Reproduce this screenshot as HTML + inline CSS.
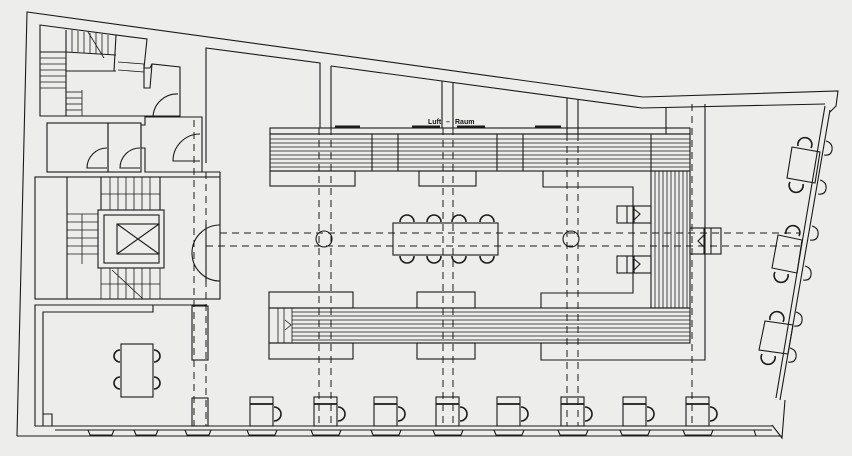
<!DOCTYPE html>
<html><head><meta charset="utf-8"><style>
html,body{margin:0;padding:0;background:#ededec;}
svg{display:block}
text{font-family:"Liberation Sans",sans-serif;font-weight:bold;font-size:7px;fill:#111}
</style></head><body>
<svg width="852" height="456" viewBox="0 0 852 456" xmlns="http://www.w3.org/2000/svg">
<rect width="852" height="456" fill="#ededec"/>
<g fill="none" stroke="#1a1a1a" stroke-width="1.1">
<!-- outer walls -->
<polyline points="17,436 27,12 643,97 838,91 836,106 830,112"/>
<polyline points="331,66 642,108 825,104"/>
<!-- right wall -->
<line x1="830" y1="110" x2="780" y2="400"/>
<line x1="825" y1="106" x2="776" y2="398"/>
<polyline points="785,400 782,438 772,425"/>
<!-- bottom wall -->
<line x1="17" y1="436" x2="782" y2="436"/>
<line x1="35" y1="426" x2="772" y2="426"/>
<line x1="55" y1="430" x2="772" y2="430"/>
<!-- top-left stair room -->
<polygon points="40,25 147,39 144,68 150,68 152,64 180,67 180,116 40,116"/>
<line x1="66" y1="30" x2="66" y2="116"/>
<line x1="40" y1="52" x2="66" y2="52"/>
<line x1="66" y1="71" x2="116" y2="71"/>
<line x1="116" y1="35" x2="114" y2="71"/>
<line x1="66" y1="52" x2="116" y2="55"/>
<g stroke-width="0.8">
<line x1="40" y1="58" x2="66" y2="58"/><line x1="40" y1="64" x2="66" y2="64"/><line x1="40" y1="70" x2="66" y2="70"/><line x1="40" y1="76" x2="66" y2="76"/><line x1="40" y1="82" x2="66" y2="82"/><line x1="40" y1="88" x2="66" y2="88"/>
<line x1="72" y1="30" x2="72" y2="52"/><line x1="78" y1="31" x2="78" y2="52"/><line x1="84" y1="32" x2="84" y2="53"/><line x1="90" y1="33" x2="90" y2="53"/><line x1="96" y1="33" x2="96" y2="54"/><line x1="102" y1="34" x2="102" y2="54"/><line x1="108" y1="35" x2="108" y2="55"/>
<line x1="88" y1="32" x2="104" y2="58"/>
<line x1="66" y1="92" x2="82" y2="92"/><line x1="66" y1="98" x2="82" y2="98"/><line x1="66" y1="104" x2="82" y2="104"/><line x1="66" y1="110" x2="82" y2="110"/>
<line x1="82" y1="90" x2="82" y2="116"/>
<line x1="118" y1="62" x2="144" y2="64"/><line x1="118" y1="70" x2="144" y2="72"/>
</g>
<polyline points="144,64 144,88 150,88 152,64"/>
<!-- small rooms -->
<rect x="47" y="123" width="61" height="49"/>
<rect x="108" y="123" width="33" height="49"/>
<polygon points="145,117 202,117 202,172 145,172 145,148 141,148 141,125 145,125"/>
<path d="M107,148 A20,20 0 0 0 87,168 L107,168"/>
<path d="M140,148 A20,20 0 0 0 120,168 L140,168"/>
<path d="M200,134 A27,27 0 0 0 173,161 L200,161"/>
<path d="M178,94 A24,24 0 0 0 153,117"/>
<!-- corridor walls / partitions -->
<polyline points="206,163 206,48 320,63 320,128"/>
<line x1="331" y1="66" x2="331" y2="128"/>
<line x1="442" y1="81" x2="442" y2="128"/>
<line x1="453" y1="83" x2="453" y2="128"/>
<line x1="567" y1="98" x2="567" y2="134"/>
<line x1="578" y1="100" x2="578" y2="134"/>
<line x1="666" y1="108" x2="666" y2="134"/>
<!-- stair block -->
<rect x="35" y="177" width="185" height="122"/>
<line x1="202" y1="172" x2="220" y2="172"/><line x1="220" y1="172" x2="220" y2="177"/>
<line x1="67" y1="177" x2="67" y2="299"/>
<line x1="101" y1="177" x2="101" y2="210"/><line x1="160" y1="177" x2="160" y2="210"/>
<g stroke-width="0.8">
<line x1="101" y1="194" x2="160" y2="194"/>
<line x1="110" y1="177" x2="110" y2="210"/><line x1="118" y1="177" x2="118" y2="210"/><line x1="126" y1="177" x2="126" y2="210"/><line x1="134" y1="177" x2="134" y2="210"/><line x1="142" y1="177" x2="142" y2="210"/><line x1="150" y1="177" x2="150" y2="210"/>
<line x1="67" y1="214" x2="98" y2="214"/><line x1="67" y1="222" x2="98" y2="222"/><line x1="67" y1="230" x2="98" y2="230"/><line x1="67" y1="238" x2="98" y2="238"/><line x1="67" y1="246" x2="98" y2="246"/><line x1="67" y1="254" x2="98" y2="254"/>
<line x1="82" y1="214" x2="82" y2="264"/>
<line x1="110" y1="268" x2="110" y2="299"/><line x1="118" y1="268" x2="118" y2="299"/><line x1="126" y1="268" x2="126" y2="299"/><line x1="134" y1="268" x2="134" y2="299"/><line x1="142" y1="268" x2="142" y2="299"/><line x1="150" y1="268" x2="150" y2="299"/>
<line x1="101" y1="284" x2="160" y2="284"/>
<line x1="112" y1="270" x2="143" y2="299"/>
<line x1="101" y1="268" x2="101" y2="299"/><line x1="160" y1="268" x2="160" y2="299"/>
</g>
<rect x="98" y="210" width="66" height="58"/>
<rect x="104" y="215" width="55" height="48"/>
<rect x="117" y="224" width="42" height="30"/>
<line x1="117" y1="224" x2="159" y2="254"/><line x1="117" y1="254" x2="159" y2="224"/>
<path d="M220,225 A28,28 0 0 0 220,281"/>
<line x1="206" y1="224" x2="206" y2="282"/>
<!-- lower left room -->
<polyline points="35,426 35,305 207,305"/>
<polyline points="43,426 43,312 153,312 153,305"/>
<polyline points="43,414 52,414 52,426"/>
<rect x="192" y="306" width="16" height="54"/>
<rect x="192" y="398" width="16" height="28"/>
<rect x="121" y="344" width="32" height="53"/>
<path d="M120,350 A6,6 0 0 0 120,362 M154,350 A6,6 0 0 1 154,362 M120,377 A6,6 0 0 0 120,389 M154,377 A6,6 0 0 1 154,389" stroke-width="1.6"/>
<!-- top bench -->
<rect x="270" y="128" width="420" height="6"/>
<rect x="270" y="134" width="420" height="37"/>
<g stroke-width="0.8">
<line x1="270" y1="139" x2="690" y2="139"/><line x1="270" y1="143" x2="690" y2="143"/><line x1="270" y1="147" x2="690" y2="147"/><line x1="270" y1="151" x2="690" y2="151"/><line x1="270" y1="155" x2="690" y2="155"/><line x1="270" y1="159" x2="690" y2="159"/><line x1="270" y1="163" x2="690" y2="163"/><line x1="270" y1="167" x2="690" y2="167"/>
</g>
<line x1="372" y1="134" x2="372" y2="171"/><line x1="398" y1="134" x2="398" y2="171"/><line x1="497" y1="134" x2="497" y2="171"/><line x1="523" y1="134" x2="523" y2="171"/><line x1="651" y1="134" x2="651" y2="171"/>
<rect x="270" y="171" width="85" height="15"/>
<rect x="419" y="171" width="57" height="15"/>
<polyline points="543,171 543,187 633,187 633,293 541,293 541,308"/>
<!-- right vertical bench -->
<rect x="651" y="171" width="39" height="137"/>
<g stroke-width="0.8">
<line x1="655" y1="171" x2="655" y2="308"/><line x1="659" y1="171" x2="659" y2="308"/><line x1="663" y1="171" x2="663" y2="308"/><line x1="667" y1="171" x2="667" y2="308"/><line x1="671" y1="171" x2="671" y2="308"/><line x1="675" y1="171" x2="675" y2="308"/><line x1="679" y1="171" x2="679" y2="308"/><line x1="683" y1="171" x2="683" y2="308"/><line x1="687" y1="171" x2="687" y2="308"/>
</g>
<!-- lower bench -->
<rect x="269" y="292" width="84" height="16"/>
<rect x="417" y="292" width="58" height="16"/>
<rect x="269" y="308" width="421" height="35"/>
<g stroke-width="0.8">
<line x1="292" y1="312" x2="690" y2="312"/><line x1="292" y1="316" x2="690" y2="316"/><line x1="292" y1="320" x2="690" y2="320"/><line x1="292" y1="324" x2="690" y2="324"/><line x1="292" y1="328" x2="690" y2="328"/><line x1="292" y1="332" x2="690" y2="332"/><line x1="292" y1="336" x2="690" y2="336"/><line x1="292" y1="340" x2="690" y2="340"/>
<line x1="278" y1="308" x2="278" y2="343"/><line x1="284" y1="308" x2="284" y2="343"/><line x1="292" y1="308" x2="292" y2="343"/>
<polyline points="285,320 291,325 285,330"/>
</g>
<rect x="269" y="343" width="84" height="16"/>
<rect x="417" y="343" width="58" height="16"/>
<polyline points="541,343 541,360 705,360 705,308"/>
<!-- small stair blocks -->
<rect x="617" y="206" width="34" height="17"/><line x1="627" y1="206" x2="627" y2="223"/><line x1="634" y1="206" x2="634" y2="223"/><polyline points="634,209 640,214 634,220"/>
<rect x="617" y="256" width="34" height="17"/><line x1="627" y1="256" x2="627" y2="273"/><line x1="634" y1="256" x2="634" y2="273"/><polyline points="634,259 640,264 634,270"/>
<rect x="690" y="228" width="31" height="26"/><line x1="704" y1="228" x2="704" y2="254"/><line x1="711" y1="228" x2="711" y2="254"/><polyline points="704,235 698,241 704,247"/>
<!-- columns -->
<circle cx="324" cy="239" r="8"/>
<circle cx="571" cy="239" r="8"/>
<!-- center table -->
<rect x="393" y="223" width="105" height="32"/>
<g stroke-width="1.6">
<path d="M400,222 A7,7 0 1 1 414,222 M427,222 A7,7 0 1 1 441,222 M452,222 A7,7 0 1 1 466,222 M480,222 A7,7 0 1 1 494,222"/>
<path d="M400,256 A7,7 0 1 0 414,256 M427,256 A7,7 0 1 0 441,256 M452,256 A7,7 0 1 0 466,256 M480,256 A7,7 0 1 0 494,256"/>
</g>
<!-- dashed grid -->
<g stroke-dasharray="7,5" stroke-width="1">
<line x1="220" y1="233" x2="800" y2="233"/><line x1="206" y1="246" x2="800" y2="246"/>
<line x1="194" y1="120" x2="194" y2="426"/><line x1="206" y1="172" x2="206" y2="426"/>
<line x1="319" y1="128" x2="319" y2="426"/><line x1="331" y1="128" x2="331" y2="426"/>
<line x1="443" y1="128" x2="443" y2="426"/><line x1="453" y1="128" x2="453" y2="426"/>
<line x1="567" y1="134" x2="567" y2="426"/><line x1="578" y1="134" x2="578" y2="426"/>
<line x1="692" y1="104" x2="692" y2="426"/>
</g>
<line x1="705" y1="104" x2="705" y2="308"/>
<!-- dark bars -->
<g stroke-width="3"><line x1="335" y1="127" x2="360" y2="127"/><line x1="412" y1="127" x2="440" y2="127"/><line x1="457" y1="127" x2="485" y2="127"/><line x1="535" y1="127" x2="561" y2="127"/></g>
</g>
<!-- bottom desks -->
<g fill="none" stroke="#1a1a1a" stroke-width="1.1">
<g id="d"><rect x="250" y="397" width="23" height="29"/><line x1="250" y1="404" x2="273" y2="404" stroke-width="1.8"/><path d="M274,407 A7,7 0 0 1 274,421" stroke-width="1.6"/><path d="M247,430 L249,435 L275,435 L277,430"/></g>
<use href="#d" x="64"/><use href="#d" x="124"/><use href="#d" x="186"/><use href="#d" x="247"/><use href="#d" x="311"/><use href="#d" x="373"/><use href="#d" x="436"/>
<path d="M88,430 L90,435 L112,435 L114,430 M134,430 L136,435 L156,435 L158,430 M185,430 L187,435 L209,435 L211,430 M754,430 L756,436 L770,436"/>
<!-- right wall desks -->
<polygon points="792,147 820,152 815,183 787,178"/>
<path d="M798,146 A7,7 0 1 1 811,148" stroke-width="1.6"/>
<path d="M790,182 A7,7 0 1 0 803,184" stroke-width="1.6"/>
<polygon points="778,235 802,240 797,273 772,268"/>
<path d="M786,234 A7,7 0 1 1 799,236" stroke-width="1.6"/>
<path d="M775,272 A7,7 0 1 0 788,274" stroke-width="1.6"/>
<polygon points="765,321 793,325 788,354 759,350"/>
<path d="M770,320 A7,7 0 1 1 783,322" stroke-width="1.6"/>
<path d="M762,354 A7,7 0 1 0 775,356" stroke-width="1.6"/>
<path d="M826,141 Q833,143 832,150 Q831,156 824,155 M820,180 Q827,182 826,189 Q825,195 818,194 M812,226 Q819,228 818,235 Q817,241 810,240 M805,266 Q812,268 811,275 Q810,281 803,280 M796,312 Q803,314 802,321 Q801,327 794,326 M790,348 Q797,350 796,357 Q795,363 788,362"/>
</g>
<text x="428" y="124">Luft</text><text x="446" y="124">–</text><text x="455" y="124">Raum</text>
</svg>
</body></html>
